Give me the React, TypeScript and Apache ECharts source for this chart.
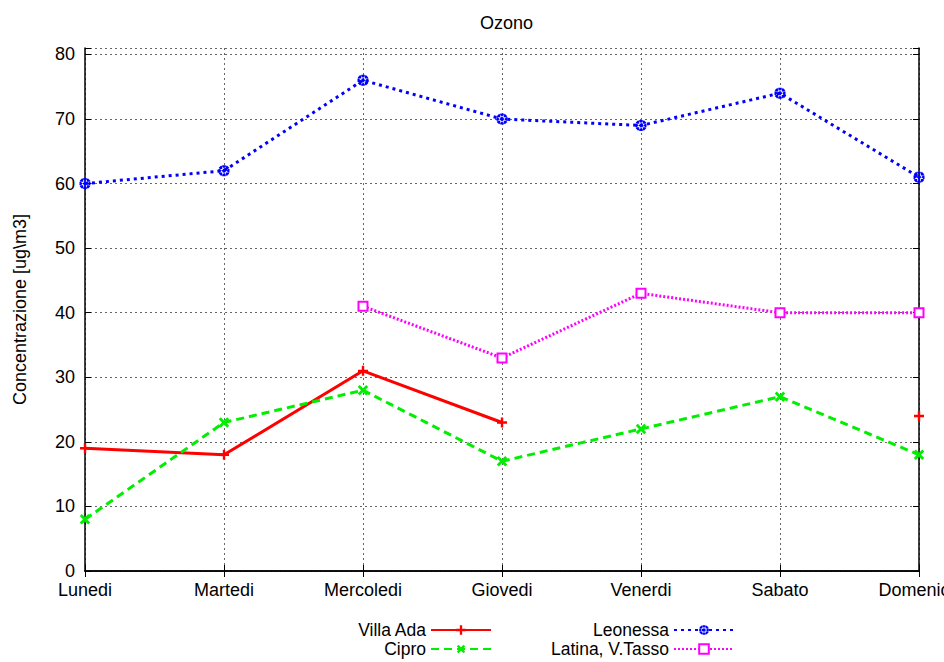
import React, { useEffect, useRef } from "react";
import * as echarts from "echarts";

const days = ["Lunedi", "Martedi", "Mercoledi", "Giovedi", "Venerdi", "Sabato", "Domenica"];
const villaAda = [19, 18, 31, 23, null, null, 24];
const cipro = [8, 23, 28, 17, 22, 27, 18];
const leonessa = [60, 62, 76, 70, 69, 74, 61];
const latina = [null, null, 41, 33, 43, 40, 40];
const yTicks = [0, 10, 20, 30, 40, 50, 60, 70, 80];

const FONT = "Liberation Sans";
const FS = 18;

const plusPath = "path://M-1.2,-5H1.2V-1.2H5V1.2H1.2V5H-1.2V1.2H-5V-1.2H-1.2Z";
const starPath =
  "path://M-1.6,-5H1.6V-1.6H5V1.6H1.6V5H-1.6V1.6H-5V-1.6H-1.6Z M-4.8,-2.6L2.6,4.8L4.8,2.6L-2.6,-4.8Z M-4.8,2.6L-2.6,4.8L4.8,-2.6L2.6,-4.8Z";

export default function App() {
  const ref = useRef<HTMLDivElement>(null);
  useEffect(() => {
    if (!ref.current) return;
    const chart = echarts.init(ref.current, null, { renderer: "svg" });
    const axisCommon = {
      axisLine: { show: true, lineStyle: { color: "#000", width: 1.5 } },
    };
    const legendBase = (name: string, right: number, top: number) => ({
      data: [name],
      right,
      top,
      align: "right",
      orient: "horizontal",
      padding: 0,
      itemWidth: 60,
      itemHeight: 12,
      textStyle: { fontFamily: FONT, fontSize: 17.5, color: "#000", lineHeight: 15 },
    });
    chart.setOption({
      animation: false,
      backgroundColor: "#fff",
      title: {
        text: "Ozono",
        left: 475,
        top: 9,
        textStyle: { fontFamily: FONT, fontSize: FS, fontWeight: "normal", color: "#000" },
      },
      legend: [
        legendBase("Villa Ada", 452, 621),
        legendBase("Cipro", 452, 640),
        legendBase("Leonessa", 209, 621),
        legendBase("Latina, V.Tasso", 209, 640),
      ],
      grid: { left: 85, right: 25, top: 48, bottom: 91, show: false, outerBoundsMode: "none", containLabel: false },
      xAxis: [
        {
          type: "category",
          data: days,
          boundaryGap: false,
          ...axisCommon,
          axisTick: { show: true, inside: true, length: 6, interval: 0, lineStyle: { color: "#000" } },
          axisLabel: {
            interval: 0,
            margin: 11,
            lineHeight: 15,
            fontFamily: FONT,
            fontSize: FS,
            color: "#000",
            hideOverlap: false,
          },
          splitLine: { show: true, interval: 0, lineStyle: { color: "#666", type: [2, 3], width: 1 } },
        },
        {
          type: "category",
          data: days,
          boundaryGap: false,
          position: "top",
          ...axisCommon,
          axisTick: { show: true, inside: true, length: 6, interval: 0, lineStyle: { color: "#000" } },
          axisLabel: { show: false },
          splitLine: { show: false },
        },
      ],
      yAxis: [
        {
          type: "value",
          min: 0,
          max: 81,
          interval: 10,
          name: "Concentrazione [ug\\m3]",
          nameLocation: "middle",
          nameGap: 56,
          nameTextStyle: { fontFamily: FONT, fontSize: FS, color: "#000" },
          ...axisCommon,
          axisTick: { show: true, inside: true, length: 6, lineStyle: { color: "#000" } },
          axisLabel: {
            margin: 10,
            lineHeight: 14,
            fontFamily: FONT,
            fontSize: FS,
            color: "#000",
            formatter: (v: number) => (yTicks.includes(v) ? String(v) : ""),
          },
          splitLine: { show: true, lineStyle: { color: "#666", type: [2, 3], width: 1 } },
        },
        {
          type: "value",
          min: 0,
          max: 81,
          interval: 10,
          position: "right",
          ...axisCommon,
          axisTick: { show: true, inside: true, length: 6, lineStyle: { color: "#000" } },
          axisLabel: { show: false },
          splitLine: { show: false },
        },
      ],
      series: [
        {
          name: "Villa Ada",
          type: "line",
          data: villaAda,
          connectNulls: false,
          symbol: plusPath,
          symbolSize: 10,
          showAllSymbol: true,
          color: "#ff0000",
          lineStyle: { color: "#ff0000", width: 3, type: "solid" },
          itemStyle: { color: "#ff0000" },
        },
        {
          name: "Cipro",
          type: "line",
          data: cipro,
          symbol: plusPath,
          symbolRotate: 45,
          symbolSize: 12,
          showAllSymbol: true,
          color: "#00ee00",
          lineStyle: { color: "#00ee00", width: 3, type: [8, 5] },
          itemStyle: { color: "#00ee00" },
        },
        {
          name: "Leonessa",
          type: "line",
          data: leonessa,
          symbol: starPath,
          symbolSize: 11,
          showAllSymbol: true,
          color: "#0000ff",
          lineStyle: { color: "#0000ff", width: 3, type: [3, 4] },
          itemStyle: { color: "#0000ff" },
        },
        {
          name: "Latina, V.Tasso",
          type: "line",
          data: latina,
          symbol: "emptyRect",
          symbolSize: 9,
          showAllSymbol: true,
          color: "#ff00ff",
          lineStyle: { color: "#ff00ff", width: 3, type: [2, 2] },
          itemStyle: { color: "#ff00ff", borderColor: "#ff00ff", borderWidth: 3.5 },
        },
      ],
    });
    return () => chart.dispose();
  }, []);
  return <div ref={ref} style={{ width: 944, height: 662, position: "absolute", left: 0, top: 0 }} />;
}
